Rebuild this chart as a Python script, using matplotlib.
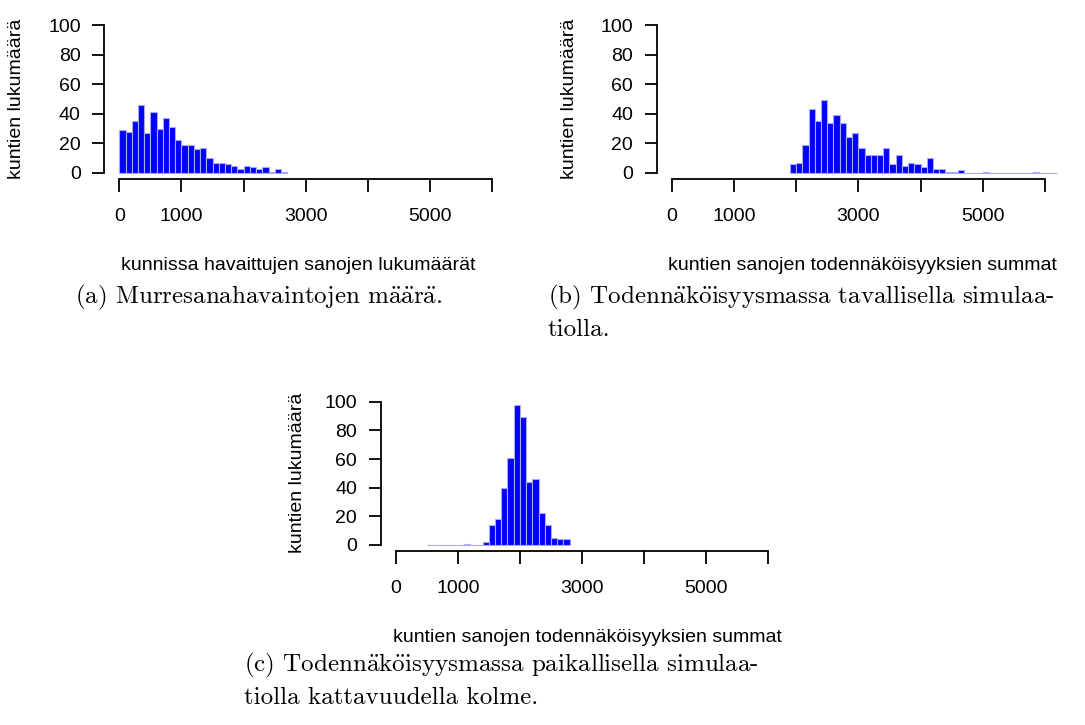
import matplotlib
matplotlib.use('Agg')
import matplotlib.pyplot as plt
import numpy as np

# Histogram counts per 100-wide bin; each list starts at the given left edge
bin_width = 100
a_start = 0
a_counts = [29, 28, 35, 46, 27, 41, 30, 37, 31, 22, 19, 19, 16, 17, 10, 7, 7,
            6, 5, 3, 5, 4, 3, 4, 1, 3, 1]
b_start = 1900
b_counts = [6, 7, 19, 43, 35, 49, 34, 39, 34, 24, 27, 17, 12, 12, 12, 17, 6,
            12, 5, 7, 6, 4, 10, 3, 3, 1, 1, 2, 0, 0, 0, 1, 0, 0, 0, 0, 0, 0,
            0, 1, 0, 0, 0]
c_start = 500
c_counts = [0, 0, 0, 0, 0, 0, 1, 0, 0, 2, 14, 18, 40, 61, 98, 89, 44, 46, 22,
            14, 5, 4, 4]

x_ticks = [0, 1000, 2000, 3000, 4000, 5000, 6000]
x_ticklabels = ['0', '1000', '', '3000', '', '5000', '']
y_ticks = [0, 20, 40, 60, 80, 100]

ylabel = 'kuntien lukumäärä'
xlabel_a = 'kunnissa havaittujen sanojen lukumäärät'
xlabel_bc = 'kuntien sanojen todennäköisyyksien summat'

caption_a = ['(a) Murresanahavaintojen määrä.']
caption_b = ['(b) Todennäköisyysmassa tavallisella simulaa-', 'tiolla.']
caption_c = ['(c) Todennäköisyysmassa paikallisella simulaa-',
             'tiolla kattavuudella kolme.']

plt.rcParams['mathtext.fontset'] = 'cm'

W, H = 1085, 725
fig = plt.figure(figsize=(W / 100, H / 100), dpi=100)

sans = 'Liberation Sans'
fs = 14
cap_fs = 18


def px_axes(left, top, width, height):
    return fig.add_axes([left / W, 1 - (top + height) / H, width / W, height / H])


def cm_text(s):
    # cmr10 has no precomposed umlauts, build them with mathtext accents
    return s.replace('ä', r'$\ddot{\mathrm{a}}$').replace('ö', r'$\ddot{\mathrm{o}}$')


def draw_hist(ax, start, counts):
    lefts = start + bin_width * np.arange(len(counts))
    ax.bar(lefts, counts, width=bin_width, align='edge', color='#0000ff',
           edgecolor='#a8a8ff', linewidth=0.8)
    ax.set_xlim(-240, 6240)
    ax.set_ylim(-4, 104)
    for s in ['top', 'right']:
        ax.spines[s].set_visible(False)
    ax.spines['bottom'].set_bounds(0, 6000)
    ax.spines['left'].set_bounds(0, 100)
    for s in ['bottom', 'left']:
        ax.spines[s].set_linewidth(1.3)
    ax.set_xticks(x_ticks)
    ax.set_xticklabels(x_ticklabels)
    ax.set_yticks(y_ticks)
    ax.tick_params(axis='x', length=9, width=1.3, pad=12, labelsize=fs)
    ax.tick_params(axis='y', length=9, width=1.3, pad=8, labelsize=fs)
    for lab in ax.get_xticklabels() + ax.get_yticklabels():
        lab.set_family(sans)


def caption(x, y, lines):
    for i, line in enumerate(lines):
        fig.text(x / W, 1 - (y + 32.5 * i) / H, cm_text(line), ha='left',
                 va='center', family='cmr10', fontsize=cap_fs)


ax_a = px_axes(104.4, 19.1, 402.9, 159.8)
draw_hist(ax_a, a_start, a_counts)
ax_b = px_axes(656.8, 19.1, 403.1, 159.8)
draw_hist(ax_b, b_start, b_counts)
ax_c = px_axes(380.8, 396.0, 402.4, 154.7)
draw_hist(ax_c, c_start, c_counts)

# axis titles
fig.text(17 / W, 1 - 99 / H, ylabel, rotation=90, ha='center', va='center',
         family=sans, fontsize=fs)
fig.text(570 / W, 1 - 99 / H, ylabel, rotation=90, ha='center', va='center',
         family=sans, fontsize=fs)
fig.text(298 / W, 1 - 473 / H, ylabel, rotation=90, ha='center', va='center',
         family=sans, fontsize=fs)
fig.text(298 / W, 1 - 265 / H, xlabel_a, ha='center', va='center',
         family=sans, fontsize=fs)
fig.text(862 / W, 1 - 266 / H, xlabel_bc, ha='center', va='center',
         family=sans, fontsize=fs)
fig.text(587 / W, 1 - 638 / H, xlabel_bc, ha='center', va='center',
         family=sans, fontsize=fs)

caption(75, 297, caption_a)
caption(548, 297, caption_b)
caption(244, 665, caption_c)

fig.savefig('out.png', dpi=100)
